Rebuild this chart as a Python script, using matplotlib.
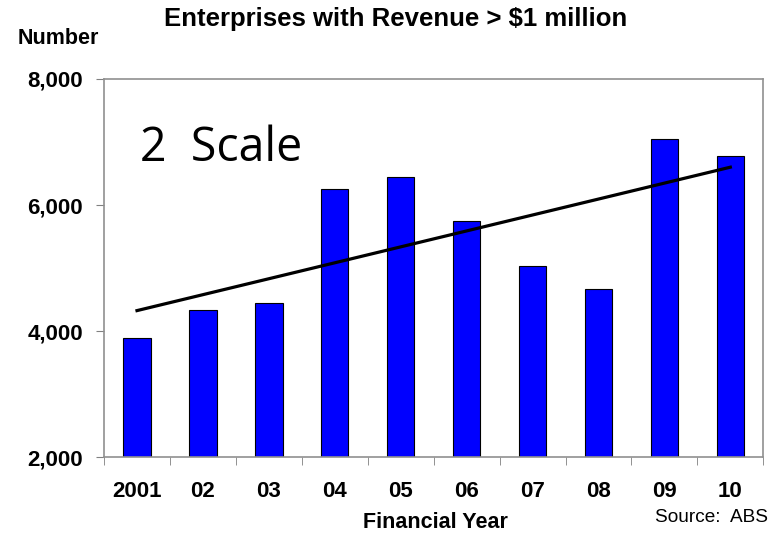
import numpy as np
import matplotlib
matplotlib.use("Agg")
import matplotlib.pyplot as plt

years = ["2001", "02", "03", "04", "05", "06", "07", "08", "09", "10"]
enterprises = [3900, 4330, 4450, 6250, 6440, 5740, 5030, 4670, 7050, 6780]
y_ticks = [2000, 4000, 6000, 8000]

plt.rcParams["font.family"] = ["Liberation Sans", "DejaVu Sans"]

fig = plt.figure(figsize=(7.84, 5.33), dpi=100)
ax = fig.add_axes([0.1327, 0.142, 0.8409, 0.7098])

x = np.arange(len(years))
ax.bar(x, enterprises, width=0.415, color="#0000FF", edgecolor="black",
       linewidth=0.8, zorder=2)

# linear trend fitted to the yearly counts
slope, intercept = np.polyfit(x, enterprises, 1)
ax.plot([x[0], x[-1]], [intercept, intercept + slope * x[-1]],
        color="black", linewidth=2.3, zorder=3)

ax.set_xlim(-0.5, len(years) - 0.5)
ax.set_ylim(2000, 8000)
ax.set_yticks(y_ticks)
ax.set_yticklabels([f"{v:,}" for v in y_ticks], fontsize=16, fontweight="bold")
ax.set_xticks(x)
ax.set_xticklabels(years, fontsize=16, fontweight="bold")
ax.set_xticks(np.arange(-0.5, len(years) + 0.5, 1), minor=True)

ax.tick_params(axis="x", which="major", length=0, pad=17)
ax.tick_params(axis="x", which="minor", length=6, color="#808080", direction="out")
ax.tick_params(axis="y", length=6, color="#808080", direction="out", pad=9)

for s in ax.spines.values():
    s.set_color("#909090")
    s.set_linewidth(1.2)

fig.text(0.504, 0.964, "Enterprises with Revenue > $1 million", ha="center",
         va="center", fontsize=18.5, fontweight="bold")
fig.text(0.022, 0.927, "Number", ha="left", va="center", fontsize=15.5,
         fontweight="bold")
fig.text(0.555, 0.019, "Financial Year", ha="center", va="center",
         fontsize=15.5, fontweight="bold")
fig.text(0.979, 0.030, "Source:  ABS", ha="right", va="center", fontsize=13.7)

ax.text(0.055, 0.818, "2  Scale", transform=ax.transAxes, ha="left",
        va="center", fontsize=33.5, family=["Open Sans", "DejaVu Sans"])

fig.savefig("out.png", dpi=100)
